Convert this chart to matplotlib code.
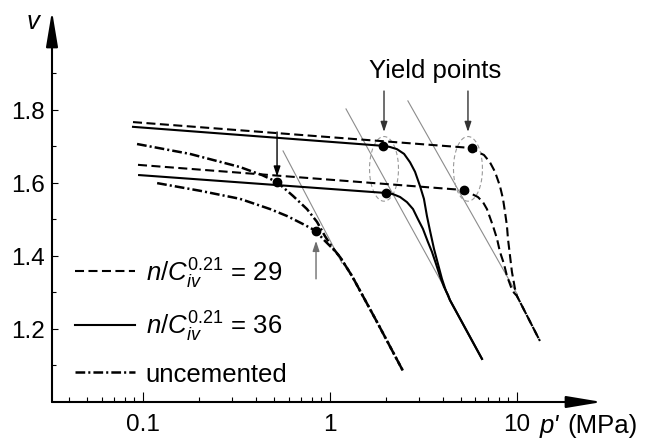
import numpy as np
import matplotlib
matplotlib.use("Agg")
import matplotlib.pyplot as plt

plt.rcParams['font.family'] = ['Liberation Sans', 'DejaVu Sans']
plt.rcParams['mathtext.fontset'] = 'custom'
plt.rcParams['mathtext.rm'] = 'Liberation Sans'
plt.rcParams['mathtext.it'] = 'Liberation Sans:italic'
plt.rcParams['mathtext.bf'] = 'Liberation Sans:bold'
plt.rcParams['lines.scale_dashes'] = False

# ---------------- data ----------------
# n/C_iv^0.21 = 29 (dashed), two tests
p_29_a = [0.0884, 5.75, 6.18, 6.66, 7.17, 7.63, 8.11, 8.42, 8.63, 8.84, 8.95, 9.18, 9.40, 9.76, 10.0, 13.27]
v_29_a = [1.766, 1.695, 1.684, 1.676, 1.656, 1.630, 1.591, 1.556, 1.520, 1.482, 1.447, 1.400, 1.356, 1.310, 1.290, 1.167]
p_29_b = [0.094, 5.21, 5.75, 6.18, 6.58, 6.91, 7.44, 7.82, 8.11, 8.52, 8.84, 9.29, 9.64, 10.0, 13.27]
v_29_b = [1.649, 1.580, 1.569, 1.561, 1.547, 1.528, 1.482, 1.447, 1.411, 1.378, 1.345, 1.315, 1.299, 1.290, 1.167]

# n/C_iv^0.21 = 36 (solid), two tests
p_36_a = [0.0884, 1.92, 2.09, 2.28, 2.49, 2.68, 2.85, 3.03, 3.18, 3.30, 3.43, 3.60, 3.78, 3.97, 4.17, 4.38, 6.50]
v_36_a = [1.753, 1.701, 1.698, 1.692, 1.679, 1.656, 1.630, 1.591, 1.556, 1.509, 1.468, 1.419, 1.378, 1.337, 1.304, 1.279, 1.118]
p_36_b = [0.0953, 1.99, 2.17, 2.37, 2.58, 2.78, 2.95, 3.14, 3.34, 3.51, 3.69, 3.87, 4.07, 4.28, 4.38, 6.50]
v_36_b = [1.621, 1.572, 1.569, 1.561, 1.547, 1.528, 1.501, 1.474, 1.438, 1.411, 1.378, 1.345, 1.315, 1.293, 1.279, 1.118]

# uncemented (dash-dot), two tests
p_unc_a = [0.0929, 0.178, 0.330, 0.433, 0.521, 0.634, 0.753, 0.852, 0.940, 1.025, 1.131, 1.311, 1.806, 2.457]
v_unc_a = [1.706, 1.679, 1.643, 1.621, 1.602, 1.564, 1.528, 1.493, 1.454, 1.424, 1.397, 1.345, 1.214, 1.085]
p_unc_b = [0.119, 0.202, 0.330, 0.478, 0.589, 0.717, 0.842, 0.918, 1.037, 1.131, 1.311, 1.806, 2.457]
v_unc_b = [1.599, 1.578, 1.556, 1.528, 1.509, 1.487, 1.468, 1.446, 1.419, 1.397, 1.345, 1.214, 1.085]

# yield points (dots)
yield_p = [5.75, 5.21, 1.92, 1.99, 0.521, 0.842]
yield_v = [1.695, 1.580, 1.701, 1.572, 1.602, 1.468]

# thin grey reference lines (start, end)
ref_p = [[0.561, 1.159], [1.218, 4.22], [2.61, 10.0]]
ref_v = [[1.687, 1.380], [1.802, 1.301], [1.824, 1.296]]

# ellipses around the cemented yield points
ell_p = [1.945, 5.47]
ell_v = [1.638, 1.638]

x_ticks = [0.1, 1, 10]
x_ticklabels = ['0.1', '1', '10']
x_minor = [0.04, 0.05, 0.06, 0.07, 0.08, 0.09, 0.2, 0.3, 0.4, 0.5, 0.6, 0.7, 0.8, 0.9,
           2, 3, 4, 5, 6, 7, 8, 9]
y_ticks = [1.2, 1.4, 1.6, 1.8]
y_ticklabels = ['1.2', '1.4', '1.6', '1.8']
y_minor = [1.1, 1.3, 1.5, 1.7, 1.9]

legend_labels = [r'$\mathit{n/C}_{\mathit{iv}}^{\mathit{0.21}}$ = 29',
                 r'$\mathit{n/C}_{\mathit{iv}}^{\mathit{0.21}}$ = 36',
                 'uncemented']

# ---------------- figure ----------------
fig = plt.figure(figsize=(6.48, 4.39), dpi=100)
ax = fig.add_axes([52 / 648, 36 / 439, 550 / 648, 391 / 439])
ax.set_xscale('log')
ax.set_xlim(0.0326, 28.5)
ax.set_ylim(1.0, 2.07)

dash = (6.5, 3.2)
dashdot = (7.0, 2.2, 1.5, 2.2)
lw = 1.5

# grey reference lines
for px, vy in zip(ref_p, ref_v):
    ax.plot(px, vy, color='#8c8c8c', lw=0.8, zorder=1)

l1, = ax.plot(p_29_a, v_29_a, color='k', lw=lw, dashes=dash, label=legend_labels[0], zorder=3)
ax.plot(p_29_b, v_29_b, color='k', lw=lw, dashes=dash, zorder=3)
l2, = ax.plot(p_36_a, v_36_a, color='k', lw=lw, label=legend_labels[1], zorder=3)
ax.plot(p_36_b, v_36_b, color='k', lw=lw, zorder=3)
l3, = ax.plot(p_unc_a, v_unc_a, color='k', lw=1.8, dashes=dashdot, label=legend_labels[2], zorder=3)
ax.plot(p_unc_b, v_unc_b, color='k', lw=1.8, dashes=dashdot, zorder=3)

ax.plot(yield_p, yield_v, 'o', color='k', ms=6, zorder=4)

# ellipses (round in display space on log-x axis)
t = np.linspace(0, 2 * np.pi, 200)
for xc, yc in zip(ell_p, ell_v):
    ax.plot(xc * 10 ** (0.0775 * np.cos(t)), yc + 0.0885 * np.sin(t),
            color='#9a9a9a', lw=0.8, dashes=(3, 2), zorder=2)

# annotations
small_arrow = dict(arrowstyle='-|>,head_length=0.6,head_width=0.2', lw=1.0,
                   shrinkA=0, shrinkB=0, mutation_scale=10)
ax.text(3.64, 1.909, 'Yield points', ha='center', va='center', fontsize=18.5)
for xc in ell_p:
    ax.annotate('', xy=(xc, 1.739), xytext=(xc, 1.851),
                arrowprops=dict(color='#333333', **small_arrow))
ax.annotate('', xy=(0.521, 1.617), xytext=(0.521, 1.739),
            arrowprops=dict(color='k', **small_arrow))
ax.annotate('', xy=(0.842, 1.441), xytext=(0.842, 1.337),
            arrowprops=dict(color='#6e6e6e', **small_arrow))

# axes: arrows instead of spines
for s in ax.spines.values():
    s.set_visible(False)
axis_arrow = dict(arrowstyle='-|>,head_length=2.16,head_width=0.36', lw=1.5, color='k',
                  shrinkA=0, shrinkB=0, mutation_scale=10)
ax.annotate('', xy=(1, 0), xytext=(0, 0), xycoords='axes fraction',
            arrowprops=axis_arrow, annotation_clip=False)
ax.annotate('', xy=(0, 1), xytext=(0, 0), xycoords='axes fraction',
            arrowprops=axis_arrow, annotation_clip=False)

ax.set_xticks(x_ticks)
ax.set_xticklabels(x_ticklabels)
ax.set_xticks(x_minor, minor=True)
ax.set_xticklabels([''] * len(x_minor), minor=True)
ax.set_yticks(y_ticks)
ax.set_yticklabels(y_ticklabels)
ax.set_yticks(y_minor, minor=True)
ax.set_yticklabels([''] * len(y_minor), minor=True)

ax.tick_params(which='both', direction='in', top=False, right=False, width=0.8, labelsize=17.5)
ax.tick_params(axis='x', which='major', length=7, pad=8)
ax.tick_params(axis='x', which='minor', length=3.8)
ax.tick_params(axis='y', which='major', length=4, pad=5)
ax.tick_params(axis='y', which='minor', length=3.2)

# axis labels
fig.text(33 / 648, 1 - 22 / 439, 'v', style='italic', fontsize=18.5, ha='center', va='center')
fig.text(540 / 648, (439 - 433) / 439, "p'", style='italic', fontsize=18.5, ha='left', va='baseline')
fig.text(567 / 648, (439 - 433) / 439, "(MPa)", fontsize=18.5, ha='left', va='baseline')

leg = ax.legend(handles=[l1, l2, l3], loc='upper left', bbox_to_anchor=(0.042, 0.375),
                frameon=False, fontsize=18.5, handlelength=2.35, handletextpad=0.4,
                labelspacing=0.75, borderpad=0, borderaxespad=0)

fig.savefig('out.png', dpi=100)
